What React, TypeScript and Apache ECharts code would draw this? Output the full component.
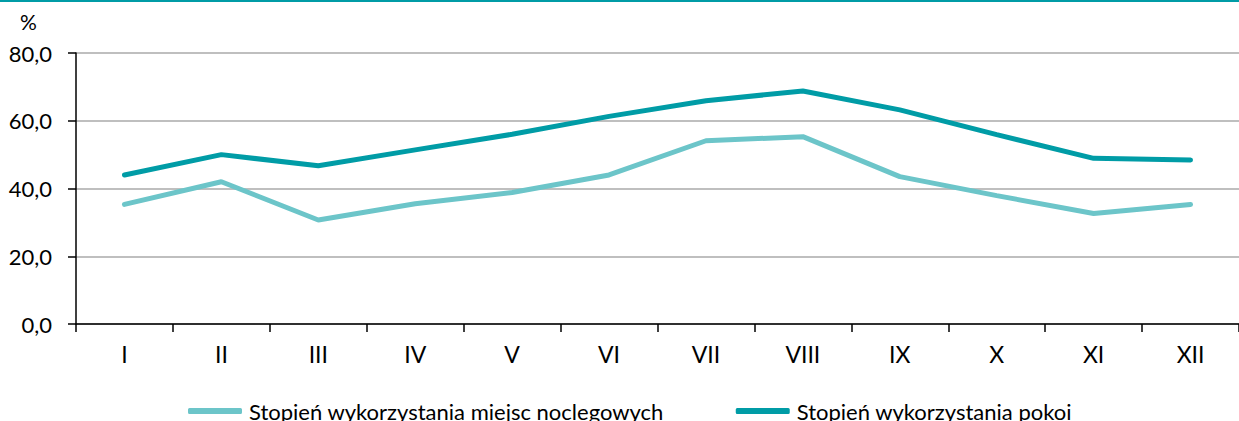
import React, { useEffect, useRef } from "react";
import * as echarts from "echarts";

const months = ["I", "II", "III", "IV", "V", "VI", "VII", "VIII", "IX", "X", "XI", "XII"];
const bedPlaces = [35.3, 42.0, 30.7, 35.5, 38.8, 44.0, 54.1, 55.3, 43.5, 37.9, 32.6, 35.3];
const rooms = [44.0, 50.0, 46.7, 51.4, 56.0, 61.3, 65.9, 68.8, 63.2, 55.9, 48.9, 48.4];
const yTicks = [0, 20, 40, 60, 80];
const seriesNames = ["Stopień wykorzystania miejsc noclegowych", "Stopień wykorzystania pokoi"];

const FONT = "Lato, 'Noto Sans', sans-serif";
const LIGHT = "#6cc5c9";
const DARK = "#009ca6";

export default function App() {
  const ref = useRef<HTMLDivElement>(null);
  useEffect(() => {
    if (!ref.current) return;
    const chart = echarts.init(ref.current, null, { renderer: "svg" });
    chart.setOption({
      animation: false,
      backgroundColor: "#ffffff",
      textStyle: { fontFamily: FONT },
      graphic: [
        { type: "rect", shape: { x: 0, y: 0, width: 1239, height: 2 }, style: { fill: DARK } },
        {
          type: "text",
          x: 20,
          y: 11,
          style: { text: "%", fontSize: 21, fontFamily: FONT, fill: "#000" },
        },
      ],
      grid: { left: 76, top: 53, right: -7, bottom: 97, containLabel: false },
      legend: {
        left: 183,
        top: 395,
        itemGap: 72,
        itemWidth: 54,
        itemHeight: 6,
        icon: "roundRect",
        textStyle: { fontFamily: FONT, fontSize: 22, color: "#000", padding: [0, 0, 0, 2] },
        data: seriesNames,
      },
      xAxis: {
        type: "category",
        data: months,
        boundaryGap: true,
        axisLine: { lineStyle: { color: "#000", width: 1.5 } },
        axisTick: { show: true, length: 8, lineStyle: { color: "#000", width: 1.5 } },
        axisLabel: { color: "#000", fontSize: 23, fontFamily: FONT, margin: 18 },
      },
      yAxis: {
        type: "value",
        min: yTicks[0],
        max: yTicks[yTicks.length - 1],
        interval: 20,
        axisLine: { show: true, lineStyle: { color: "#000", width: 1.5 } },
        axisTick: { show: true, length: 8, lineStyle: { color: "#000", width: 1.5 } },
        axisLabel: {
          color: "#000",
          fontSize: 22,
          fontFamily: FONT,
          margin: 24,
          formatter: (v: number) => v.toFixed(1).replace(".", ","),
        },
        splitLine: { show: true, lineStyle: { color: "#bfbfbf", width: 2 } },
      },
      series: [
        {
          name: seriesNames[0],
          type: "line",
          data: bedPlaces,
          symbol: "none",
          lineStyle: { color: LIGHT, width: 5, cap: "round" },
          itemStyle: { color: LIGHT },
          z: 3,
        },
        {
          name: seriesNames[1],
          type: "line",
          data: rooms,
          symbol: "none",
          lineStyle: { color: DARK, width: 5, cap: "round" },
          itemStyle: { color: DARK },
          z: 4,
        },
      ],
    });
    return () => chart.dispose();
  }, []);
  return (
    <div
      ref={ref}
      style={{ position: "fixed", left: 0, top: 0, width: 1239, height: 421 }}
    />
  );
}
